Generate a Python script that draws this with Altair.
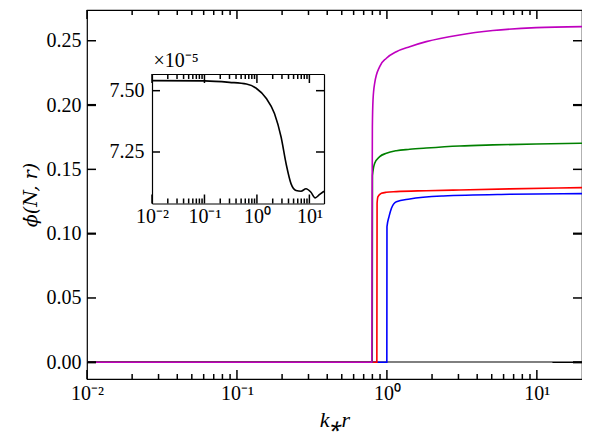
import altair as alt
import pandas as pd

# ---------------- data ----------------
blue_x = [0.01, 0.999, 1.001, 1.033, 1.072, 1.156, 1.419, 2.37, 6.58, 20]
blue_y = [0.0, 0.0, 0.1054, 0.1132, 0.1198, 0.1249, 0.1270, 0.1293, 0.1306, 0.1311]

red_x = [0.01, 0.857, 0.860, 0.872, 0.919, 0.992, 1.156, 1.83, 3.05, 6.58, 20]
red_y = [0.0, 0.0, 0.1236, 0.1288, 0.1314, 0.1322, 0.1327, 0.1334, 0.1340, 0.1348, 0.1358]

green_x = [0.01, 0.798, 0.801, 0.829, 0.895, 0.992, 1.156, 1.419, 1.83, 3.05, 5.09, 9.9, 20]
green_y = [0.0, 0.0, 0.145, 0.1547, 0.1599, 0.1625, 0.1645, 0.1656, 0.1666, 0.1682, 0.1690, 0.1697, 0.1703]

magenta_x = [0.01, 0.794, 0.796, 0.800, 0.808, 0.829, 0.895, 0.992, 1.156, 1.419, 1.83, 3.05, 5.09, 9.9, 20]
magenta_y = [0.0, 0.0, 0.10, 0.183, 0.204, 0.217, 0.2299, 0.2364, 0.2415, 0.2454, 0.2493, 0.2545, 0.2579, 0.2602, 0.2610]

gray_x = [0.01, 12.7]
gray_y = [0.0, 0.0]

# inset curve, in units of 1e-5
inset_x = [0.01, 0.1, 0.3, 0.63, 0.97, 1.5, 2.16, 2.89, 3.6, 4.48, 5.57, 6.93, 8.63, 10.7, 12.9, 15.5, 19]
inset_y = [7.541, 7.540, 7.534, 7.527, 7.510, 7.469, 7.407, 7.311, 7.202, 7.120, 7.093, 7.090, 7.100, 7.086, 7.063, 7.076, 7.090]

x_major = [0.01, 0.1, 1, 10]
x_tick_labels = ["10\u207b\u00b2", "10\u207b\u00b9", "10\u2070", "10\u00b9"]
x_minor = [m * d for d in (0.01, 0.1, 1) for m in range(2, 10)]
y_labels_main = [0.0, 0.05, 0.10, 0.15, 0.20, 0.25]
y_thin = [0.05, 0.15, 0.25]
y_thick = [0.0, 0.10, 0.20]
inset_y_ticks = [7.25, 7.50]

colors = {"black": "#000000", "gray": "#808080", "blue": "#0000ff",
          "red": "#ff0000", "green": "#008000", "magenta": "#bf00bf"}

# ---------------- frames ----------------
def frame(xs, ys):
    return pd.DataFrame({"x": xs, "y": ys})

df_black = frame(inset_x + [20], [v * 1e-5 for v in inset_y] + [inset_y[-1] * 1e-5])
df_gray = frame(gray_x, gray_y)
df_blue = frame(blue_x, blue_y)
df_red = frame(red_x, red_y)
df_green = frame(green_x, green_y)
df_mag = frame(magenta_x, magenta_y)
df_inset = frame(inset_x, inset_y)

FONT = "Liberation Serif"
label_expr = "[" + ",".join("'%s'" % s for s in x_tick_labels) + "][round(log(datum.value)/LN10)+2]"

W, H = 495, 369
IX0, IX1, IY0, IY1 = 65, 237, 64, 193.5


def xs_main():
    return alt.Scale(type="log", domain=[0.01, 20], range=[0, W], nice=False)


def ys_main():
    return alt.Scale(domain=[-0.013, 0.2739], range=[H, 0], nice=False, zero=False)


def xs_in():
    return alt.Scale(type="log", domain=[0.01, 19], range=[IX0, IX1], nice=False)


def ys_in():
    return alt.Scale(domain=[7.04, 7.568], range=[IY1, IY0], nice=False, zero=False)


def xticks(values, xs, ypos, length, width=1.5):
    return alt.Chart(pd.DataFrame({"v": values})).mark_rule(
        color="black", strokeWidth=width, opacity=1).encode(
        x=alt.X("v:Q", scale=xs, axis=None),
        y=alt.value(ypos), y2=alt.value(ypos + length),
    )


def yticks(values, ys, xpos, length, width=1.5):
    return alt.Chart(pd.DataFrame({"v": values})).mark_rule(
        color="black", strokeWidth=width, opacity=1).encode(
        y=alt.Y("v:Q", scale=ys, axis=None),
        x=alt.value(xpos), x2=alt.value(xpos + length),
    )


def domain_axis(orient, values, offset=0):
    return alt.Axis(orient=orient, values=values, ticks=False, labels=False, domain=True,
                    domainColor="black", domainWidth=1.2, grid=False, title=None,
                    offset=offset)


def ghost(df, xs, ys, xaxis, yaxis):
    return alt.Chart(df).mark_point(opacity=0).encode(
        x=alt.X("x:Q", scale=xs, axis=xaxis),
        y=alt.Y("y:Q", scale=ys, axis=yaxis),
    )


layers = []

# ---------------- main plot ----------------
for df, c in [(df_black, "black"), (df_gray, "gray"), (df_blue, "blue"),
              (df_red, "red"), (df_green, "green"), (df_mag, "magenta")]:
    layers.append(
        alt.Chart(df).mark_line(color=colors[c], strokeWidth=1.6, interpolate="monotone").encode(
            x=alt.X("x:Q", scale=xs_main(), axis=None),
            y=alt.Y("y:Q", scale=ys_main(), axis=None),
        )
    )

main_label_x = alt.Axis(orient="bottom", values=x_major, labelExpr=label_expr, ticks=False,
                        domain=False, grid=False, labelFlush=False, labelOverlap=False,
                        labelPadding=4, title="k\u204er", titleFontStyle="italic",
                        titlePadding=6)
main_label_y = alt.Axis(orient="left", values=y_labels_main, format=".2f", ticks=False,
                        domain=False, grid=False, labelOverlap=False, labelPadding=6,
                        title="\u03d5\u0307(N, r)", titleFont="DejaVu Serif",
                        titleFontSize=19, titleFontStyle="italic", titlePadding=6)
layers.append(ghost(df_mag, xs_main(), ys_main(), main_label_x, main_label_y))

# ---------------- inset ----------------
off_b = -(H - IY1)
off_t = -IY0
off_l = -IX0
off_r = -(W - IX1)

in_label_x = alt.Axis(orient="bottom", values=x_major, labelExpr=label_expr, ticks=False,
                      domain=True, domainColor="black", domainWidth=1.2, grid=False,
                      labelFlush=False, labelOverlap=False,
                      labelPadding=3, title=None, offset=off_b)
in_label_y = alt.Axis(orient="left", values=inset_y_ticks, format=".2f", ticks=False,
                      domain=True, domainColor="black", domainWidth=1.2, grid=False,
                      labelOverlap=False, labelPadding=8,
                      title="\u00d710\u207b\u2075", titleAngle=0, titleAlign="left",
                      titleBaseline="alphabetic", titleX=1, titleY=56, titleFontStyle="normal",
                      titleFontSize=20, offset=off_l)

layers.append(
    alt.Chart(df_inset).mark_line(color="black", strokeWidth=1.6, interpolate="monotone").encode(
        x=alt.X("x:Q", scale=xs_in(), axis=in_label_x),
        y=alt.Y("y:Q", scale=ys_in(), axis=in_label_y),
    )
)
layers.append(ghost(df_inset, xs_in(), ys_in(), domain_axis("top", x_major, off_t),
                    domain_axis("right", inset_y_ticks, off_r)))

# ---------------- ticks (inward, on all four sides) ----------------
layers += [
    xticks(x_major, xs_main(), H, -9),
    xticks(x_minor, xs_main(), H, -5),
    xticks(x_major, xs_main(), 0, 9),
    xticks(x_minor, xs_main(), 0, 5),
    yticks(y_thin, ys_main(), 0, 9, 1.5),
    yticks(y_thick, ys_main(), 0, 9, 2.2),
    yticks(y_thin, ys_main(), W, -9, 1.5),
    yticks(y_thick, ys_main(), W, -9, 2.2),
    xticks(x_major, xs_in(), IY1, -9),
    xticks(x_minor, xs_in(), IY1, -5),
    xticks(x_major, xs_in(), IY0, 9),
    xticks(x_minor, xs_in(), IY0, 5),
    yticks(inset_y_ticks, ys_in(), IX0, 8),
    yticks(inset_y_ticks, ys_in(), IX1, -8),
]

chart = alt.layer(*layers).resolve_scale(
    x="independent", y="independent"
).resolve_axis(
    x="independent", y="independent"
).properties(
    width=W, height=H,
    autosize=alt.AutoSizeParams(type="none"),
    padding={"left": 79, "top": 2, "right": 0, "bottom": 53},
).configure_view(
    stroke="black", strokeWidth=1.2
).configure_axis(
    labelFont=FONT, labelFontSize=20, labelColor="black",
    titleFont=FONT, titleFontSize=22, titleColor="black", titleFontWeight="normal",
    tickColor="black", domainColor="black",
)

chart.save("out.html", embed_options={"renderer": "svg", "actions": False})
